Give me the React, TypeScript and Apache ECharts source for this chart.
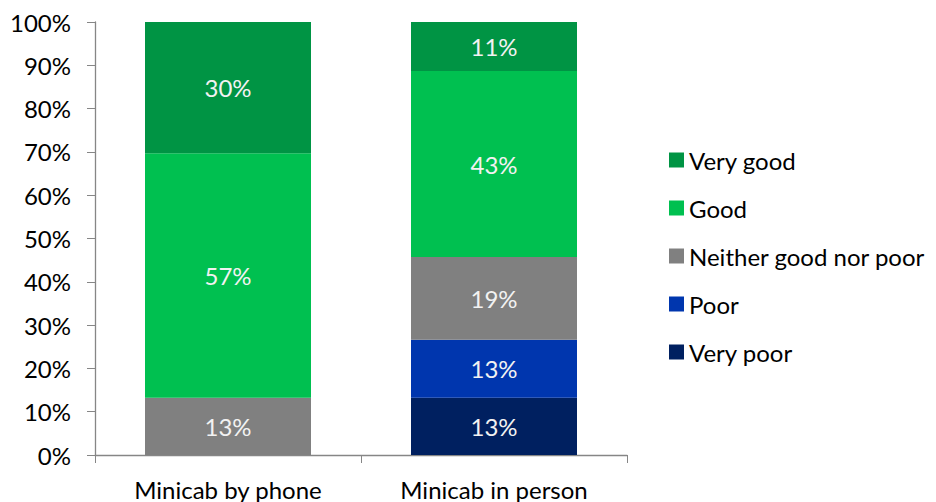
import React, { useEffect, useRef } from "react";
import * as echarts from "echarts";

const categories = ["Minicab by phone", "Minicab in person"];
const seriesNames = ["Very poor", "Poor", "Neither good nor poor", "Good", "Very good"];
const veryPoor = [0, 13.2];
const poor = [0, 13.4];
const neither = [13.2, 19.1];
const good = [56.5, 43.0];
const veryGood = [30.3, 11.3];
const labelsText = [
  ["", "13%"],
  ["", "13%"],
  ["13%", "19%"],
  ["57%", "43%"],
  ["30%", "11%"],
];
const colors = ["#002060", "#0036AE", "#808080", "#00C050", "#009444"];
const yTicks = [0, 10, 20, 30, 40, 50, 60, 70, 80, 90, 100];

const FONT = "Lato, 'Open Sans', sans-serif";
const FS = 24;

export default function App() {
  const ref = useRef<HTMLDivElement>(null);
  useEffect(() => {
    if (!ref.current) return;
    const chart = echarts.init(ref.current, undefined, { renderer: "svg" });
    const values = [veryPoor, poor, neither, good, veryGood];
    chart.setOption({
      animation: false,
      textStyle: { fontFamily: FONT },
      grid: { left: 95, right: 309, top: 22, bottom: 47, containLabel: false },
      legend: {
        orient: "vertical",
        left: 664,
        top: 143,
        itemWidth: 15,
        itemHeight: 15,
        itemGap: 24,
        icon: "rect",
        data: [...seriesNames].reverse(),
        textStyle: { fontSize: FS, color: "#000", fontFamily: FONT },
      },
      xAxis: {
        type: "category",
        data: categories,
        axisLine: { lineStyle: { color: "#868686", width: 1.3 } },
        axisTick: { show: true, length: 8, alignWithLabel: false, lineStyle: { color: "#868686" } },
        axisLabel: { fontSize: FS, color: "#000", margin: 22, fontFamily: FONT },
      },
      yAxis: {
        type: "value",
        min: 0,
        max: 100,
        interval: 10,
        axisLine: { show: true, lineStyle: { color: "#868686", width: 1.3 } },
        axisTick: { show: true, length: 8, lineStyle: { color: "#868686" } },
        splitLine: { show: false },
        axisLabel: {
          fontSize: FS,
          color: "#000",
          margin: 24,
          fontFamily: FONT,
          formatter: (v: number) => (yTicks.includes(v) ? v + "%" : ""),
        },
      },
      series: seriesNames.map((name, i) => ({
        name,
        type: "bar",
        stack: "total",
        barWidth: 166,
        itemStyle: { color: colors[i] },
        label: {
          show: true,
          position: "inside",
          color: "#F2F2F2",
          fontSize: FS,
          fontFamily: FONT,
          formatter: (p: any) => labelsText[i][p.dataIndex],
        },
        data: values[i],
      })),
    });
    return () => chart.dispose();
  }, []);
  return <div ref={ref} style={{ width: 936, height: 502, position: "absolute", left: 0, top: 0 }} />;
}
